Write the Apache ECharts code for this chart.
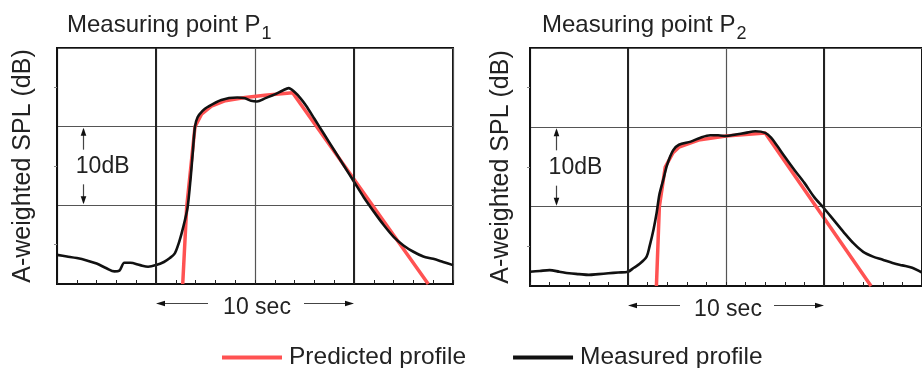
<!DOCTYPE html>
<html><head><meta charset="utf-8">
<script src="https://cdn.jsdelivr.net/npm/echarts@6/dist/echarts.min.js"></script>
<style>html,body{margin:0;padding:0;background:#fff}#c{width:922px;height:368px}</style>
</head><body><div id="c"></div>
<script>
// ---- data ----
const titleTexts = ['Measuring point P', 'Measuring point P'];
const titleSubs = ['1', '2'];
const yAxisName = 'A-weighted SPL (dB)';
const seriesNames = ['Predicted profile', 'Measured profile'];
const dbLabel = '10dB';
const secLabel = '10 sec';
const xTicks = [0, 5, 10, 15, 20];   // seconds (labels hidden)
const yTicks = [0, 10, 20, 30];      // dB (labels hidden)

const measuredP1 = [[0,3.7],[0.5,3.5],[1,3.3],[1.5,3.0],[2,2.6],[2.5,2.0],[2.9,1.6],[3.15,1.7],[3.4,2.7],[3.7,2.7],[4.2,2.4],[4.6,2.2],[5,2.4],[5.4,2.8],[5.7,3.3],[5.95,3.9],[6.15,5.2],[6.3,6.5],[6.45,8.0],[6.6,9.8],[6.75,13.5],[6.85,16.5],[6.97,20.0],[7.1,21.2],[7.35,22.0],[7.6,22.5],[8.3,23.4],[9.1,23.7],[9.5,23.6],[9.8,23.3],[10.1,23.2],[10.5,23.6],[11,24.1],[11.4,24.6],[11.7,24.9],[12,24.4],[12.3,23.6],[12.6,22.6],[13,21.0],[13.5,19.0],[14,17.0],[14.5,15.0],[15,13.0],[15.5,11.0],[16,9.2],[16.5,7.5],[17,6.0],[17.5,4.9],[18,4.1],[18.5,3.5],[19,3.2],[19.5,2.8],[20,2.4]];
const predictedP1 = [[6.35,0],[6.55,9.8],[6.97,20],[7.3,21.6],[7.8,22.6],[8.5,23.3],[9.5,23.7],[10.5,24.0],[11.9,24.3],[18.75,0]];
const measuredP2 = [[0,1.8],[0.5,1.9],[1,2.0],[1.5,1.8],[2,1.6],[2.5,1.5],[3,1.4],[3.5,1.5],[4,1.6],[4.5,1.7],[5,1.8],[5.3,2.3],[5.6,2.8],[5.95,3.7],[6.1,5.0],[6.3,7.1],[6.46,9.2],[6.6,11.5],[6.8,13.4],[7.0,15.3],[7.3,17.1],[7.6,17.8],[8.2,18.2],[8.7,18.7],[9.2,19.0],[9.6,19.0],[10,18.9],[10.5,19.1],[11,19.3],[11.5,19.5],[12,19.3],[12.3,18.7],[12.6,17.7],[13,16.3],[13.5,14.6],[14,13.0],[14.5,11.2],[15,9.8],[15.5,8.3],[16,6.8],[16.5,5.4],[17,4.3],[17.5,3.7],[18,3.3],[18.5,2.9],[19,2.6],[19.5,2.3],[20,1.7]];
const predictedP2 = [[6.45,0],[6.6,10],[6.9,15],[7.3,16.8],[7.6,17.5],[8.6,18.4],[10,18.9],[12,19.3],[17.4,0]];

// ---- chart ----
const FONT = '"Liberation Sans", Arial, Helvetica, sans-serif';
const TXT = '#222';
const chart = echarts.init(document.getElementById('c'), null, {renderer: 'canvas'});

const grids = [
  {left: 57, top: 48, width: 396, height: 236},
  {left: 530, top: 48, width: 396, height: 238}
];

function makeX(i) {
  return {
    gridIndex: i, type: 'value', min: xTicks[0], max: xTicks[xTicks.length - 1], interval: xTicks[1] - xTicks[0],
    axisLabel: {show: false},
    axisLine: {onZero: false, lineStyle: {color: '#111', width: 2}},
    axisTick: {show: true, inside: true, length: 4, lineStyle: {color: '#222', width: 1}},
    minorTick: {show: true, splitNumber: 5, length: 4, lineStyle: {color: '#222', width: 1}},
    splitLine: {show: true, lineStyle: {color: '#555', width: 1.2}}
  };
}
function makeY(i, gap) {
  return {
    gridIndex: i, type: 'value', min: yTicks[0], max: yTicks[yTicks.length - 1], interval: yTicks[1] - yTicks[0],
    name: yAxisName, nameLocation: 'middle', nameGap: gap, nameRotate: 90,
    nameTextStyle: {fontFamily: FONT, fontSize: 25, color: TXT},
    axisLabel: {show: false},
    axisLine: {onZero: false, lineStyle: {color: '#111', width: 2}},
    axisTick: {show: false},
    minorTick: {show: true, splitNumber: 2, length: 3, lineStyle: {color: '#888', width: 1}},
    splitLine: {show: true, lineStyle: {color: '#555', width: 1.1}}
  };
}

const titleRich = {
  a: {fontFamily: FONT, fontSize: 24, fontWeight: 'normal', color: TXT, lineHeight: 28, verticalAlign: 'top'},
  s: {fontFamily: FONT, fontSize: 18, fontWeight: 'normal', color: TXT, lineHeight: 20, padding: [12, 0, 0, 1], verticalAlign: 'top'}
};

function seriesPair(g, pred, meas) {
  return [
    {
      type: 'line', name: '_grid' + g, xAxisIndex: g, yAxisIndex: g, data: [], silent: true, z: 1,
      markLine: {silent: true, symbol: 'none', label: {show: false},
        lineStyle: {color: '#222', width: 2, type: 'solid'},
        data: [{xAxis: xTicks[1]}, {xAxis: xTicks[3]}]}
    },
    {
      type: 'line', name: seriesNames[0], xAxisIndex: g, yAxisIndex: g, data: pred,
      showSymbol: false, symbol: 'none', smooth: false, z: 2,
      lineStyle: {color: '#ff5252', width: 3.5}, itemStyle: {color: '#ff5252'}
    },
    {
      type: 'line', name: seriesNames[1], xAxisIndex: g, yAxisIndex: g, data: meas,
      showSymbol: false, symbol: 'none', smooth: 0.3, z: 3,
      lineStyle: {color: '#111', width: 2.6}, itemStyle: {color: '#111'}
    }
  ];
}

chart.setOption({
  animation: false,
  backgroundColor: '#fff',
  title: [
    {text: '{a|' + titleTexts[0] + '}{s|' + titleSubs[0] + '}', left: 62, top: 8, textStyle: {fontWeight: 'normal', rich: titleRich}},
    {text: '{a|' + titleTexts[1] + '}{s|' + titleSubs[1] + '}', left: 537, top: 8, textStyle: {fontWeight: 'normal', rich: titleRich}}
  ],
  legend: {
    data: seriesNames, left: 217, top: 340, icon: 'rect', itemWidth: 60, itemHeight: 4, itemGap: 47,
    textStyle: {fontFamily: FONT, fontSize: 24.5, color: TXT, padding: [0, 0, 0, 2]}
  },
  grid: grids.map(g => Object.assign({show: true, borderColor: '#111', borderWidth: 2, backgroundColor: 'transparent'}, g)),
  xAxis: [makeX(0), makeX(1)],
  yAxis: [makeY(0, 21), makeY(1, 16)],
  series: [].concat(seriesPair(0, predictedP1, measuredP1), seriesPair(1, predictedP2, measuredP2))
});

// ---- annotations placed through the axes ----
function px(g, p) { return chart.convertToPixel({gridIndex: g}, p); }
const els = [];
const lineSt = {stroke: '#444', lineWidth: 1.2};
const headSt = {fill: '#111'};
function txt(x, y, s, align) {
  return {type: 'text', silent: true, z: 10, style: {
    x: x, y: y, text: s, font: '23px ' + FONT, fill: TXT,
    textAlign: align, textVerticalAlign: 'middle', align: align, verticalAlign: 'middle'}};
}
[0, 1].forEach(g => {
  // 10dB arrow
  const top = px(g, [1.31, 20]), bot = px(g, [1.31, 10]), mid = px(g, [0.95, 15]);
  const ax = Math.round(top[0]) + 0.5;
  els.push({type: 'line', silent: true, z: 10, shape: {x1: ax, y1: top[1] + 3, x2: ax, y2: top[1] + 23}, style: lineSt});
  els.push({type: 'polygon', silent: true, z: 10, shape: {points: [[ax, top[1] + 1], [ax - 2.8, top[1] + 9], [ax + 2.8, top[1] + 9]]}, style: headSt});
  els.push({type: 'line', silent: true, z: 10, shape: {x1: ax, y1: bot[1] - 21, x2: ax, y2: bot[1] - 3}, style: lineSt});
  els.push({type: 'polygon', silent: true, z: 10, shape: {points: [[ax, bot[1] - 1], [ax - 2.8, bot[1] - 9], [ax + 2.8, bot[1] - 9]]}, style: headSt});
  els.push(txt(mid[0], mid[1] + 1, dbLabel, 'left'));
  // 10 sec arrow
  const p5 = px(g, [xTicks[1], 0]), p10 = px(g, [xTicks[2], 0]), p15 = px(g, [xTicks[3], 0]);
  const yy = p5[1] + 19.5;
  els.push({type: 'line', silent: true, z: 10, shape: {x1: p5[0] + 4, y1: yy, x2: p5[0] + 52, y2: yy}, style: lineSt});
  els.push({type: 'polygon', silent: true, z: 10, shape: {points: [[p5[0], yy], [p5[0] + 9, yy - 2.8], [p5[0] + 9, yy + 2.8]]}, style: headSt});
  els.push({type: 'line', silent: true, z: 10, shape: {x1: p15[0] - 50, y1: yy, x2: p15[0] - 4, y2: yy}, style: lineSt});
  els.push({type: 'polygon', silent: true, z: 10, shape: {points: [[p15[0], yy], [p15[0] - 9, yy - 2.8], [p15[0] - 9, yy + 2.8]]}, style: headSt});
  els.push(txt(p10[0] + 2, yy + 4, secLabel, 'center'));
});
chart.setOption({graphic: {elements: els}});
</script>
</body></html>
